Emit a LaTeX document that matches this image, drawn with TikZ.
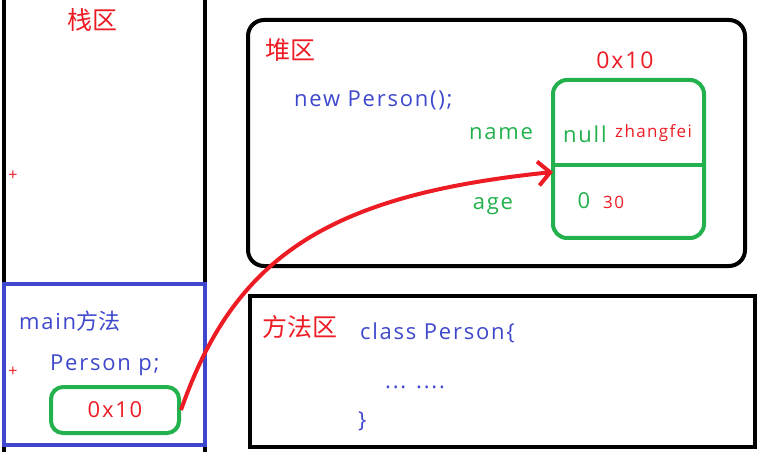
\documentclass[tikz,border=0pt]{standalone}
\usepackage{fontspec}
\setmainfont{Open Sans}[LetterSpace=8]
\newfontfamily\cjk{Noto Sans CJK SC}
\usetikzlibrary{arrows.meta,positioning,calc}
\definecolor{paintred}{HTML}{ED1C24}
\definecolor{paintgreen}{HTML}{22B14C}
\definecolor{paintblue}{HTML}{3F48CC}

\begin{document}
\begin{tikzpicture}[
    x=1pt, y=-1pt,
    arrow/.style={-{Straight Barb[length=12pt,width=24pt,line width=4pt]}, line width=4pt, paintred},
    area/.style={draw, line width=4pt, minimum width=#1, inner sep=0pt},
    cell/.style={draw=paintgreen, line width=4pt, rounded corners=14pt, inner sep=0pt},
    title/.style={text=paintred, font=\cjk\fontsize{25}{30}\selectfont, inner sep=0pt},
    code/.style={text=paintblue, font=\fontsize{22}{27}\selectfont, inner sep=0pt},
    field/.style={text=paintgreen, font=\fontsize{22}{27}\selectfont, inner sep=0pt},
    value/.style={text=paintred, font=\fontsize{17}{20}\selectfont, inner sep=0pt},
    plusmark/.style={text=paintred, font=\fontsize{16}{18}\selectfont, inner sep=0pt}
]
\useasboundingbox (0,0) rectangle (779,457);

\draw[line width=4pt] (4,-4) -- (4,452);
\draw[line width=4pt] (205,-4) -- (205,452);
\node[title] (stack) at (92,20) {栈区};
\node[plusmark] (plus1) at (13,176) {+};
\node[plusmark] (plus2) at (13,372) {+};

\node[area=201pt, draw=paintblue, minimum height=161pt] (frame) at (104.5,364.5) {};
\node[code, anchor=west] (mainname) at (19,321) {main{\cjk 方法}};
\node[code, anchor=west] (decl) at (50,365) {Person p;};
\node[cell, rounded corners=12pt, minimum width=128pt, minimum height=46pt,
      text=paintred, font=\fontsize{22}{27}\selectfont] (addr) at (115,410) {0x10};

\node[area=497pt, rounded corners=16pt, minimum height=246pt] (heap) at (496.5,143) {};
\node[title, anchor=west] (heapname) at (265,50) {堆区};
\node[code, anchor=west] (newobj) at (294,100) {new Person();};
\node[value, font=\fontsize{23}{28}\selectfont] (objaddr) at (625,60) {0x10};

\node[cell, minimum width=151pt, minimum height=158pt] (obj) at (628.5,159) {};
\draw[paintgreen, line width=4pt] (obj.west |- 0,165) -- (obj.east |- 0,165);
\node[field] (namefield) at (501,134) {name};
\node[field, anchor=west] (nameval) at (563,134) {null};
\node[value, anchor=west] (newname) at (615,133) {zhangfei};
\node[field] (agefield) at (493,206) {age};
\node[field] (ageval) at (584,201) {0};
\node[value, anchor=west] (newage) at (603,202) {30};

\node[area=505pt, minimum height=151pt] (method) at (502.5,371.5) {};
\node[title, anchor=west] (methodname) at (262,327) {方法区};
\node[code, anchor=west] (classline) at (360,333) {class Person\{};
\node[code, anchor=base west] (bodyline) at (385,388) {... ....};
\node[code, anchor=west] (closeline) at (358,421) {\}};

\coordinate (tip) at (553,172);
\draw[arrow] (addr.east) .. controls (235,255) and (330,195) .. (tip);

\end{tikzpicture}
\end{document}
